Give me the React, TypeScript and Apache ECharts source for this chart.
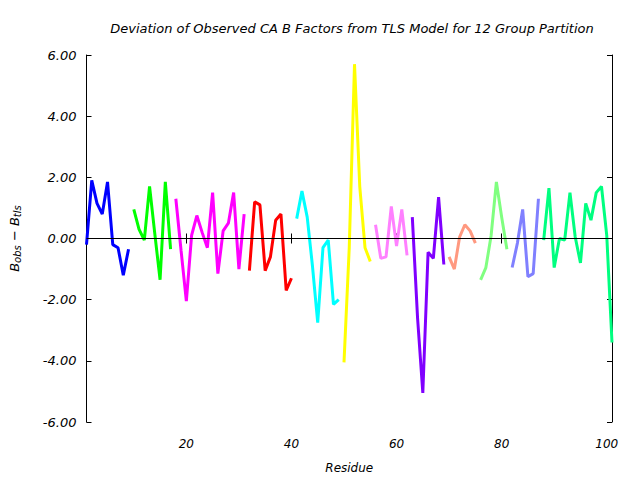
import React, { useEffect, useRef } from "react";
import * as echarts from "echarts";

const groupStarts = [1, 10, 18, 32, 41, 50, 56, 63, 70, 76, 82, 88];
const groupColors = [
  "#0000FF", "#00FF00", "#FF00FF", "#FF0000", "#00FFFF", "#FFFF00",
  "#FF80FF", "#8000FF", "#FF9980", "#80FF80", "#8080FF", "#00FF80",
];
const blue = [-0.2, 1.9, 1.15, 0.8, 1.85, -0.2, -0.3, -1.2, -0.35];
const green = [0.95, 0.3, -0.05, 1.7, 0.15, -1.35, 1.85, -0.35];
const magenta = [1.3, -0.4, -2.05, 0.1, 0.75, 0.2, -0.3, 1.5, -1.15, 0.25, 0.5, 1.5, -1.0, 0.8];
const red = [-1.05, 1.2, 1.1, -1.05, -0.6, 0.6, 0.8, -1.7, -1.3];
const cyan = [0.65, 1.55, 0.7, -0.9, -2.75, -0.3, -0.05, -2.15, -2.0];
const yellow = [-4.05, -0.3, 5.7, 1.7, -0.3, -0.75];
const lightMagenta = [0.45, -0.65, -0.6, 1.05, -0.25, 0.95, -0.55];
const purple = [0.7, -2.6, -5.05, -0.45, -0.65, 1.35, -0.85];
const salmon = [-0.6, -1.0, 0.05, 0.45, 0.25, -0.15];
const lightGreen = [-1.35, -0.95, 0.1, 1.85, 0.7, -0.35];
const lightBlue = [-0.95, -0.15, 0.95, -1.25, -1.15, 1.3];
const springGreen = [-0.05, 1.65, -0.95, 0.0, -0.05, 1.5, 0.05, -0.8, 1.15, 0.6, 1.5, 1.7, 0.1, -3.4];
const groupValues = [blue, green, magenta, red, cyan, yellow, lightMagenta, purple, salmon, lightGreen, lightBlue, springGreen];
const xTicks = [20, 40, 60, 80, 100];

const FONT = "DejaVu Sans";

export default function App() {
  const ref = useRef<HTMLDivElement>(null);
  useEffect(() => {
    if (!ref.current) return;
    const chart = echarts.init(ref.current, null, { renderer: "svg" });
    const series: any[] = groupValues.map((vals, gi) => ({
      type: "line",
      data: vals.map((v, i) => [groupStarts[gi] + i, v]),
      showSymbol: false,
      symbol: "none",
      lineStyle: { color: groupColors[gi], width: 3 },
      itemStyle: { color: groupColors[gi] },
      z: 3,
    }));
    series.push({
      type: "line",
      data: [],
      markLine: {
        silent: true,
        symbol: "none",
        label: { show: false },
        lineStyle: { color: "#000", width: 1, type: "solid" },
        data: [{ yAxis: 0 }],
      },
      z: 2,
    });
    const axisCommon = {
      axisLine: { show: true, lineStyle: { color: "#000", width: 1 } },
      splitLine: { show: false },
    };
    chart.setOption({
      animation: false,
      backgroundColor: "#fff",
      title: {
        text: "Deviation of Observed CA B Factors from TLS Model for 12 Group Partition",
        left: 347,
        top: 17,
        textAlign: "center",
        textStyle: { fontFamily: FONT, fontStyle: "italic", fontWeight: "normal", fontSize: 13, color: "#000" },
      },
      grid: { left: 85, right: 28, top: 55, bottom: 58 },
      xAxis: [
        {
          type: "value",
          min: 1,
          max: 101,
          position: "bottom",
          ...axisCommon,
          axisTick: { show: true, inside: true, length: 5, lineStyle: { color: "#000" }, customValues: xTicks },
          axisLabel: {
            customValues: xTicks,
            fontFamily: FONT, fontStyle: "italic", fontSize: 12, color: "#000", margin: 16,
          },
          name: "Residue",
          nameLocation: "middle",
          nameGap: 40,
          nameTextStyle: { fontFamily: FONT, fontStyle: "italic", fontSize: 12, color: "#000" },
        },
        {
          type: "value",
          min: 1,
          max: 101,
          position: "top",
          ...axisCommon,
          axisTick: { show: true, inside: true, length: 5, lineStyle: { color: "#000" }, customValues: xTicks },
          axisLabel: { show: false },
        },
      ],
      yAxis: [
        {
          type: "value",
          min: -6,
          max: 6,
          interval: 2,
          position: "left",
          ...axisCommon,
          axisTick: { show: true, inside: true, length: 5, lineStyle: { color: "#000" } },
          axisLabel: {
            formatter: (v: number) => v.toFixed(2),
            fontFamily: FONT, fontStyle: "italic", fontSize: 13, color: "#000", margin: 10,
          },
          name: "{b|B}{s|obs}{b| − B}{s|tls}",
          nameLocation: "middle",
          nameGap: 64,
          nameRotate: 90,
          nameTextStyle: {
            fontFamily: FONT,
            fontStyle: "italic",
            color: "#000",
            rich: {
              b: { fontFamily: FONT, fontStyle: "italic", fontSize: 13, color: "#000" },
              s: { fontFamily: FONT, fontStyle: "italic", fontSize: 10, color: "#000", padding: [6, 0, 0, 0] },
            },
          },
        },
        {
          type: "value",
          min: -6,
          max: 6,
          interval: 2,
          position: "right",
          ...axisCommon,
          axisTick: { show: true, inside: true, length: 5, lineStyle: { color: "#000" } },
          axisLabel: { show: false },
        },
      ],
      series,
    });
    return () => chart.dispose();
  }, []);
  return <div ref={ref} style={{ width: 640, height: 480, position: "absolute", left: 0, top: 0 }} />;
}
